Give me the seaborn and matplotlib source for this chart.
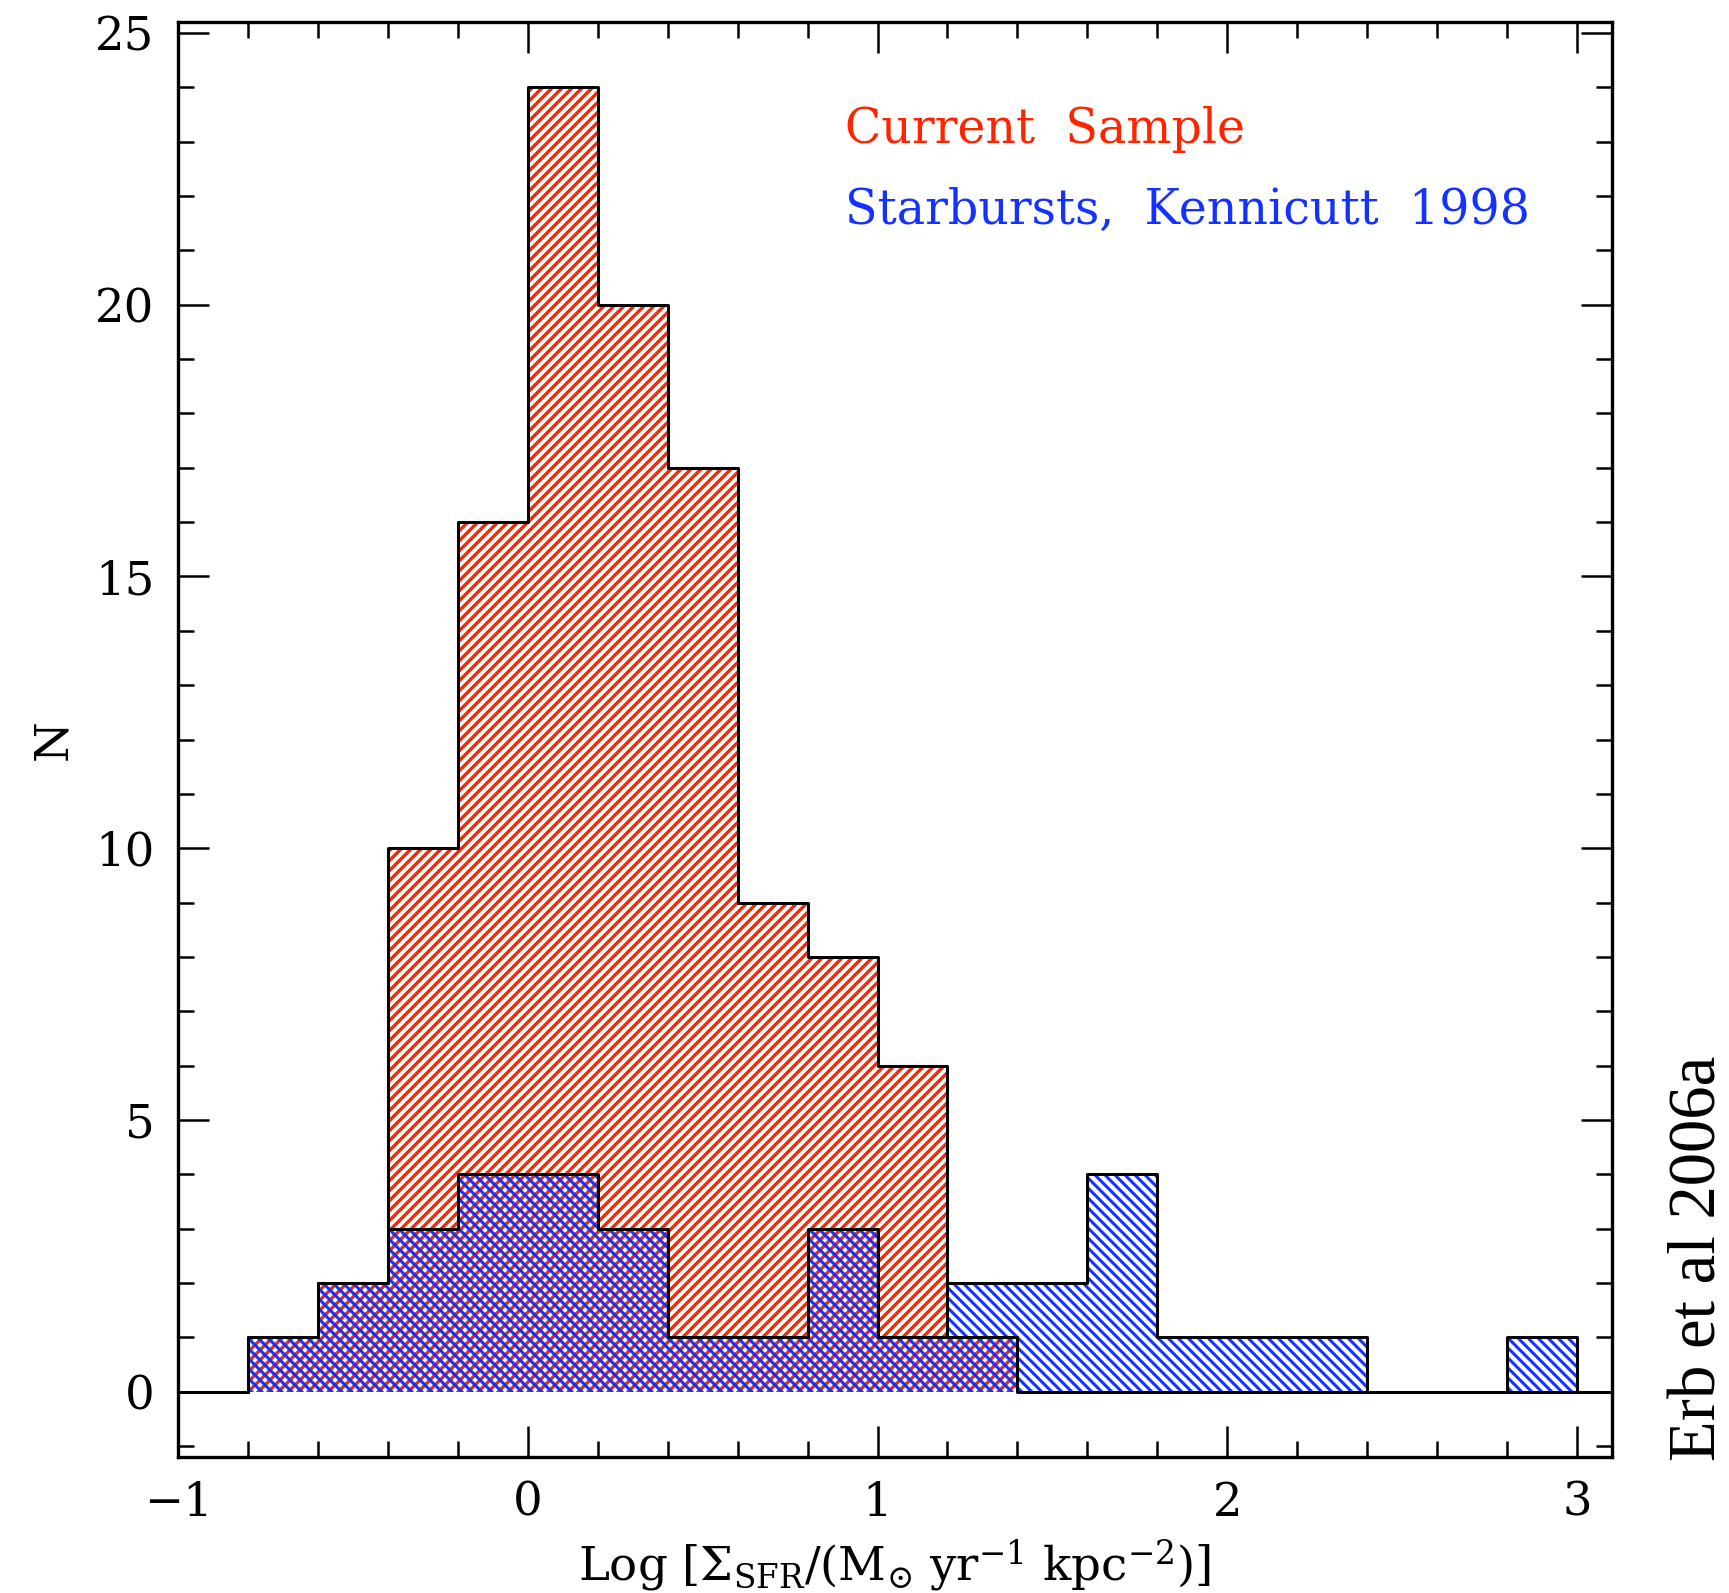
import numpy as np
import pandas as pd
import matplotlib
matplotlib.use("Agg")
import matplotlib.pyplot as plt
from matplotlib.ticker import MultipleLocator
import seaborn as sns

# Histogram bins (left edges, width 0.2 dex) and counts per bin
bin_lo = [-1.0, -0.8, -0.6, -0.4, -0.2, 0.0, 0.2, 0.4, 0.6, 0.8, 1.0,
          1.2, 1.4, 1.6, 1.8, 2.0, 2.2, 2.4, 2.6, 2.8, 3.0]
bin_width = 0.2
current_counts = [0, 1, 2, 10, 16, 24, 20, 17, 9, 8, 6,
                  1, 0, 0, 0, 0, 0, 0, 0, 0, 0]
starburst_counts = [0, 1, 2, 3, 4, 4, 3, 1, 1, 3, 1,
                    2, 2, 4, 1, 1, 1, 0, 0, 1, 0]

label_current = "Current  Sample"
label_starburst = "Starbursts,  Kennicutt  1998"
RED = "#ff2400"
BLUE = "#1432ff"

edges = bin_lo + [bin_lo[-1] + bin_width]
df = pd.DataFrame({
    "center": [b + bin_width / 2 for b in bin_lo],
    "current": current_counts,
    "starburst": starburst_counts,
})

sns.set_style("ticks")
plt.rcParams["font.family"] = ["DejaVu Serif"]
plt.rcParams["mathtext.fontset"] = "dejavuserif"
plt.rcParams["text.color"] = "black"
plt.rcParams["axes.labelcolor"] = "black"
plt.rcParams["axes.linewidth"] = 2.0

DPI = 120
fig = plt.figure(figsize=(1729 / DPI, 1593 / DPI), dpi=DPI)
ax = fig.add_axes([178 / 1729, 1 - 1457 / 1593, (1612 - 178) / 1729, (1457 - 22) / 1593])

# hatched fills (overlap produces the cross-hatch)
plt.rcParams["hatch.linewidth"] = 2.0
sns.histplot(data=df, x="center", weights="current", bins=edges, element="bars",
             fill=True, facecolor="none", edgecolor=RED, linewidth=0,
             hatch="////", ax=ax)
plt.rcParams["hatch.linewidth"] = 1.8
sns.histplot(data=df, x="center", weights="starburst", bins=edges, element="bars",
             fill=True, facecolor="none", edgecolor=BLUE, linewidth=0,
             hatch="\\\\\\\\", ax=ax)

# black step outlines
for col in ["current", "starburst"]:
    sns.histplot(data=df, x="center", weights=col, bins=edges, element="step",
                 fill=False, color="black", linewidth=1.8, ax=ax)

ax.set_xlim(-1.0, 3.1)
ax.set_ylim(-1.2, 25.2)
ax.xaxis.set_major_locator(MultipleLocator(1))
ax.xaxis.set_minor_locator(MultipleLocator(0.2))
ax.yaxis.set_major_locator(MultipleLocator(5))
ax.yaxis.set_minor_locator(MultipleLocator(1))
ax.tick_params(which="both", direction="in", top=True, right=True,
               width=1.5, labelsize=28, colors="black")
ax.tick_params(which="major", length=18.6, pad=14)
ax.tick_params(which="minor", length=9.6)
for s in ax.spines.values():
    s.set_linewidth(2.0)
    s.set_color("black")

ax.set_xlabel(r"Log [$\Sigma_{\mathrm{SFR}}$/(M$_{\odot}$ yr$^{-1}$ kpc$^{-2}$)]",
              fontsize=28, color="black")
ax.set_ylabel("N", fontsize=28, color="black")
ax.xaxis.set_label_coords(0.5, -0.056)
ax.yaxis.set_label_coords(-0.071, 0.5)

ax.text(0.4651, 0.9157, label_current, transform=ax.transAxes, color=RED,
        fontsize=28.5, va="baseline", ha="left")
ax.text(0.4651, 0.8592, label_starburst, transform=ax.transAxes, color=BLUE,
        fontsize=28.5, va="baseline", ha="left")

fig.text(1716 / 1729, 1 - 1461 / 1593, "Erb et al 2006a", rotation=90,
         rotation_mode="anchor", ha="left", va="baseline", fontsize=40,
         family=["Liberation Serif"], color="black")

fig.savefig("out.png", dpi=DPI, facecolor="white")
